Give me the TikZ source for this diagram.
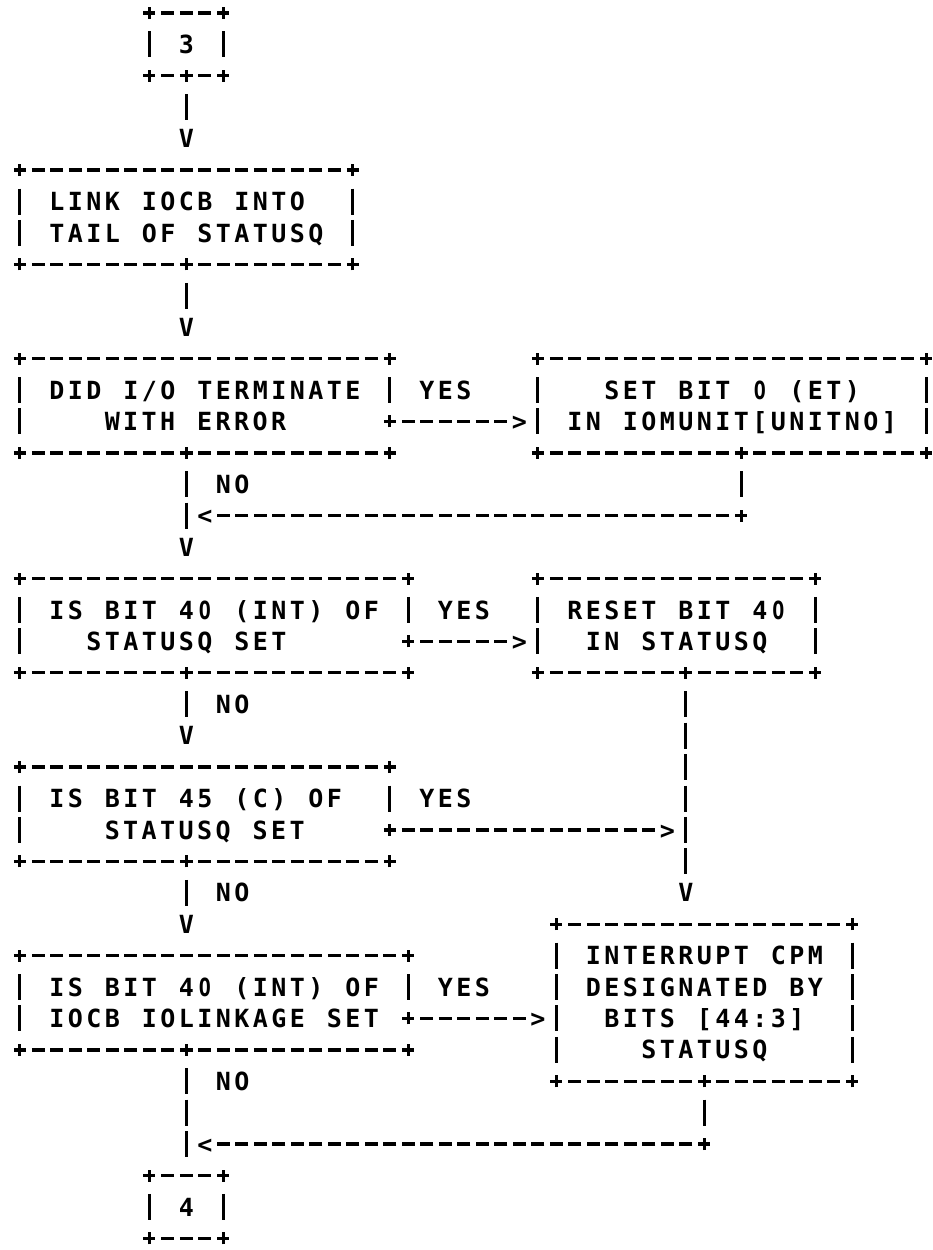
\documentclass[tikz,border=0pt]{standalone}
\usepackage{fontspec}
\usepackage{graphicx}
\newfontfamily\gridfont{DejaVu Sans Mono}
\newdimen\cw \cw=18.5pt
\newdimen\linewd
\ExplSyntaxOn
\cs_new_protected:Npn \gridglyph #1
  { \str_if_eq:nnTF {#1} {0} { \scalebox{0.8}[1]{O} } {#1} }
\cs_new_protected:Npn \gridcells #1
  { \str_map_inline:nn {#1} { \makebox[\cw][c]{\gridglyph{##1}} } }
\ExplSyntaxOff
\newcommand\cellstrut{\rule[-6.61pt]{0pt}{31.42pt}}
\newcommand\bline[2]{\hbox to\linewd{\cellstrut\hskip#1\cw\gridcells{#2}\hfil}}
\newcommand\boxtext[2]{\linewd=#1\cw\vbox{\offinterlineskip#2}}
\tikzset{
  gridtext/.style={font=\gridfont\bfseries\fontsize{25pt}{31.42pt}\selectfont, text=black},
  cellbox/.style={inner sep=0pt, outer sep=0pt, minimum width=18.5pt, minimum height=31.42pt},
  arrowglyph/.style={cellbox, gridtext},
  gridlabel/.style={inner sep=0pt, outer sep=0pt, gridtext},
  boxarea/.style={inner sep=0pt, outer sep=0pt, gridtext},
  hconn/.style={line width=3.3pt, dash pattern=on 13pt off 5.5pt, dash phase=15.75pt},
  vconn/.style={line width=3pt, dash pattern=on 26pt off 5.42pt, dash phase=28.71pt},
  pluspen/.style={line width=3.3pt}
}
\newcommand\plusat[1]{\draw[pluspen] ([xshift=-6pt]#1) -- ([xshift=6pt]#1) ([yshift=-6pt]#1) -- ([yshift=6pt]#1);}
\newcommand\junction[2]{\node[cellbox] (#1) at (#2) {}; \plusat{#1.center}}
\newcommand\boxnode[6]{\node[boxarea, minimum width={(#4-#2+1)*18.5pt}, minimum height={(#5-#3+1)*31.42pt}] (#1) at ({(#2+#4)/2},{(#3+#5)/2}) {#6};}
\newcommand\boxborder[5]{%
  \draw[hconn] (#1+0.5,#2) -- (#3-0.5,#2);
  \draw[hconn] (#1+0.5,#4) -- (#3-0.5,#4);
  \draw[vconn] (#1,#2+0.5) -- (#1,#4-0.5);
  \draw[vconn] (#3,#2+0.5) -- (#3,#5+0.5);
  \plusat{#1,#2}\plusat{#3,#2}\plusat{#1,#4}\plusat{#3,#4}}
\begin{document}
\begin{tikzpicture}[x=18.5pt, y=-31.42pt]
\useasboundingbox[fill=white] (-19.8pt,13pt) rectangle (912.2pt,-1237pt);

% ---- boxes ----
\boxnode{b3}{7}{0}{11}{2}{\boxtext{3}{\bline{1}{3}}}
\boxborder{7}{0}{11}{2}{1}
\boxnode{link}{0}{5}{18}{8}{\boxtext{17}{\bline{1}{LINK IOCB INTO}\bline{1}{TAIL OF STATUSQ}}}
\boxborder{0}{5}{18}{8}{7}
\boxnode{did}{0}{11}{20}{14}{\boxtext{19}{\bline{1}{DID I/O TERMINATE}\bline{4}{WITH ERROR}}}
\boxborder{0}{11}{20}{14}{12}
\boxnode{setbit}{28}{11}{49}{14}{\boxtext{20}{\bline{3}{SET BIT 0 (ET)}\bline{1}{IN IOMUNIT[UNITNO]}}}
\boxborder{28}{11}{49}{14}{13}
\boxnode{int1}{0}{18}{21}{21}{\boxtext{20}{\bline{1}{IS BIT 40 (INT) OF}\bline{3}{STATUSQ SET}}}
\boxborder{0}{18}{21}{21}{19}
\boxnode{reset}{28}{18}{43}{21}{\boxtext{14}{\bline{1}{RESET BIT 40}\bline{2}{IN STATUSQ}}}
\boxborder{28}{18}{43}{21}{20}
\boxnode{c45}{0}{24}{20}{27}{\boxtext{19}{\bline{1}{IS BIT 45 (C) OF}\bline{4}{STATUSQ SET}}}
\boxborder{0}{24}{20}{27}{25}
\boxnode{int2}{0}{30}{21}{33}{\boxtext{20}{\bline{1}{IS BIT 40 (INT) OF}\bline{1}{IOCB IOLINKAGE SET}}}
\boxborder{0}{30}{21}{33}{31}
\boxnode{cpm}{29}{29}{45}{34}{\boxtext{15}{\bline{1}{INTERRUPT CPM}\bline{1}{DESIGNATED BY}\bline{2}{BITS [44:3]}\bline{4}{STATUSQ}}}
\boxborder{29}{29}{45}{34}{33}
\boxnode{b4}{7}{37}{11}{39}{\boxtext{3}{\bline{1}{4}}}
\boxborder{7}{37}{11}{39}{38}

% ---- junctions ----
\junction{j1}{9,2}
\junction{j2}{9,8}
\junction{j3}{20,13}
\junction{j4}{39,14}
\junction{k4}{39,16}
\junction{j5}{9,14}
\junction{j6}{21,20}
\junction{j7}{9,21}
\junction{j8}{36,21}
\junction{j9}{20,26}
\junction{j10}{9,27}
\junction{j11}{21,32}
\junction{j12}{9,33}
\junction{j13}{37,34}
\junction{k13}{37,36}

% ---- arrow glyphs ----
\node[arrowglyph] (v1) at (9,4) {\cellstrut V};
\node[arrowglyph] (v2) at (9,10) {\cellstrut V};
\node[arrowglyph] (g3) at (27,13) {\cellstrut >};
\node[arrowglyph] (l4) at (10,16) {\cellstrut <};
\node[arrowglyph] (v5) at (9,17) {\cellstrut V};
\node[arrowglyph] (g6) at (27,20) {\cellstrut >};
\node[arrowglyph] (v7) at (9,23) {\cellstrut V};
\node[arrowglyph] (v8) at (36,28) {\cellstrut V};
\node[arrowglyph] (g9) at (35,26) {\cellstrut >};
\node[arrowglyph] (v10) at (9,29) {\cellstrut V};
\node[arrowglyph] (g11) at (28,32) {\cellstrut >};
\node[arrowglyph] (l13) at (10,36) {\cellstrut <};

% ---- labels ----
\node[gridlabel] (yes1) at (23,12) {\cellstrut\gridcells{YES}};
\node[gridlabel] (no1) at (11.5,15) {\cellstrut\gridcells{NO}};
\node[gridlabel] (yes2) at (24,19) {\cellstrut\gridcells{YES}};
\node[gridlabel] (no2) at (11.5,22) {\cellstrut\gridcells{NO}};
\node[gridlabel] (yes3) at (23,25) {\cellstrut\gridcells{YES}};
\node[gridlabel] (no3) at (11.5,28) {\cellstrut\gridcells{NO}};
\node[gridlabel] (yes4) at (24,31) {\cellstrut\gridcells{YES}};
\node[gridlabel] (no4) at (11.5,34) {\cellstrut\gridcells{NO}};

% ---- connectors ----
\draw[vconn] (j1.south) -- (v1.north);
\draw[vconn] (j2.south) -- (v2.north);
\draw[hconn] (j3.east) -- (g3.west);
\draw[vconn] (j4.south) -- (k4.north);
\draw[hconn] (k4.west) -- (l4.east);
\draw[vconn] (j5.south) -- (v5.north);
\draw[hconn] (j6.east) -- (g6.west);
\draw[vconn] (j7.south) -- (v7.north);
\draw[vconn] (j8.south) -- (v8.north);
\draw[hconn] (j9.east) -- (g9.west);
\draw[vconn] (j10.south) -- (v10.north);
\draw[hconn] (j11.east) -- (g11.west);
\draw[vconn] (j12.south) -- (b4.north);
\draw[vconn] (j13.south) -- (k13.north);
\draw[hconn] (k13.west) -- (l13.east);
\end{tikzpicture}
\end{document}
